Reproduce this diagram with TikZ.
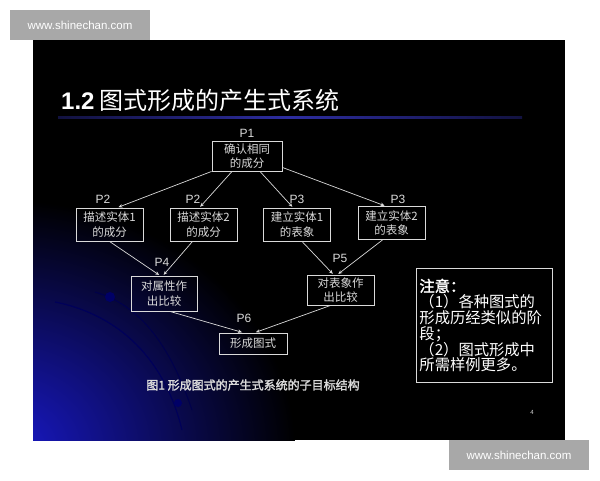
\documentclass[tikz,border=0pt]{standalone}
\usepackage{fontspec}
\setmainfont{Liberation Sans}
\newfontfamily\cjk[AutoFakeBold=2]{Noto Sans CJK SC}
\usetikzlibrary{positioning,arrows.meta}
\definecolor{wmgray}{RGB}{168,168,168}
\definecolor{edge}{RGB}{218,218,218}
\definecolor{ttlblue}{RGB}{45,45,160}
\definecolor{glowblue}{RGB}{25,25,200}
\tikzset{
  goal/.style={draw=edge, line width=0.9pt, text=edge, align=center, inner sep=0pt,
    minimum width=67, minimum height=33, font=\cjk\fontsize{11.5}{14.5}\selectfont},
  plabel/.style={text=edge, font=\fontsize{12}{12}\selectfont},
  arr/.style={-{Stealth[length=4pt,width=3.5pt]}, draw=edge, line width=0.7pt, shorten >=1pt},
  mark box/.style={fill=wmgray, text=white, minimum width=140, minimum height=30,
    font=\fontsize{11.5}{11.5}\selectfont},
}
\begin{document}
\begin{tikzpicture}[x=1pt,y=-1pt]
  \useasboundingbox (0,0) rectangle (600,480);
  \fill[white] (0,0) rectangle (600,480);
  % slide background with the blue glow
  \fill[black] (33,40) rectangle (565,440);
  \begin{scope}
    \clip (33,40) rectangle (565,440);
    \shade[inner color=glowblue, outer color=black] (5,450) ellipse [x radius=290, y radius=250];
    \draw[blue!35!black, line width=1.2pt] (55,302) .. controls (120,315) and (165,360) .. (182,430);
    \draw[blue!30!black, line width=1pt] (95,292) .. controls (140,305) and (170,345) .. (192,410);
    \fill[blue!40!black] (110,297) circle (5);
    \fill[blue!40!black] (178,403) circle (4);
  \end{scope}
  % title
  \node[anchor=west, text=white, inner sep=0pt, font=\cjk\fontsize{24}{24}\selectfont] (title) at (61,100)
    {{\rmfamily\bfseries 1.2} 图式形成的产生式系统};
  \shade[left color=ttlblue!40!black, right color=ttlblue!40!black, middle color=ttlblue]
    (58,116) rectangle (522,118.5);
  % goal tree
  \node[goal, minimum width=70, minimum height=30] (p1) at (247,156) {确认相同\\的成分};
  \node[goal] (e1) at (109.5,224.5) {描述实体1\\的成分};
  \node[goal] (e2) at (203.5,224.5) {描述实体2\\的成分};
  \node[goal] (e3) at (297,224.5) {建立实体1\\的表象};
  \node[goal] (e4) at (391.5,223) {建立实体2\\的表象};
  \node[goal, minimum width=66, minimum height=35] (p4) at (164,293.5) {对属性作\\出比较};
  \node[goal, minimum height=30] (p5) at (340.5,290) {对表象作\\出比较};
  \node[goal, minimum width=68, minimum height=21] (p6) at (253,343.5) {形成图式};
  % P labels
  \node[plabel, above=0pt of p1] (lp1) {P1};
  \node[plabel] (lp2a) at (103,199) {P2};
  \node[plabel] (lp2b) at (193,199) {P2};
  \node[plabel] (lp3a) at (297,199) {P3};
  \node[plabel] (lp3b) at (398,199) {P3};
  \node[plabel] (lp4) at (162,262) {P4};
  \node[plabel] (lp5) at (340,258) {P5};
  \node[plabel] (lp6) at (244,318) {P6};
  % arrows
  \draw[arr] (p1.south west) -- ([xshift=8pt]e1.north);
  \draw[arr] ([xshift=-15pt]p1.south) -- ([xshift=-4pt]e2.north);
  \draw[arr] ([xshift=13pt]p1.south) -- ([xshift=-4pt]e3.north);
  \draw[arr] ([yshift=4pt]p1.south east) -- ([xshift=-6pt]e4.north);
  \draw[arr] (e1.south) -- ([xshift=-4pt]p4.north);
  \draw[arr] ([xshift=-11pt]e2.south) -- ([xshift=-1pt]p4.north);
  \draw[arr] ([xshift=5pt]e3.south) -- ([xshift=-7pt]p5.north);
  \draw[arr] ([xshift=-9pt]e4.south) -- ([xshift=-3pt]p5.north);
  \draw[arr] ([xshift=6pt]p4.south) -- ([xshift=-10pt]p6.north);
  \draw[arr] ([xshift=-10pt]p5.south) -- ([xshift=2pt]p6.north);
  % caption
  \node[text=edge, font=\cjk\bfseries\fontsize{12}{12}\selectfont] (cap) at (253,385)
    {图1 形成图式的产生式系统的子目标结构};
  % note
  \node[draw=edge, line width=0.9pt, text=white, anchor=north west, minimum width=136,
    minimum height=114, text width=130, inner sep=3pt, align=left,
    font=\cjk\fontsize{15.3}{15.8}\selectfont] (note) at (416,268)
    {\textbf{注意：}\\（1）各种图式的\\形成历经类似的阶\\段；\\（2）图式形成中\\所需样例更多。};
  \node[text=edge, font=\fontsize{6}{6}\selectfont] (pg) at (532,412) {4};
  % watermarks
  \node[mark box] (wm1) at (80,25) {www.shinechan.com};
  \node[mark box] (wm2) at (519,455) {www.shinechan.com};
\end{tikzpicture}
\end{document}
